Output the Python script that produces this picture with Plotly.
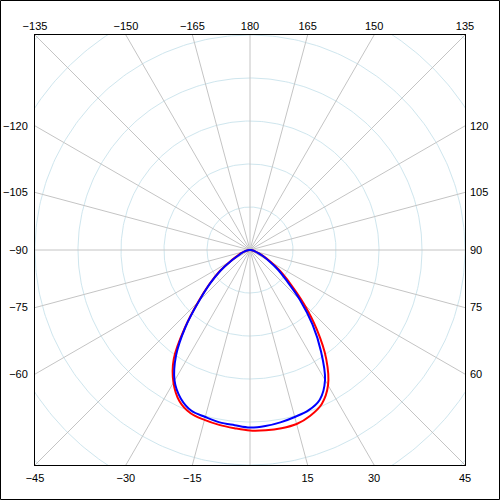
import numpy as np
import plotly.graph_objects as go

# ---- data (angles in degrees, 0 = straight down, positive toward the right) ----
ANGLES = list(range(-90, 91, 5))
RED = [0, 2, 7, 14, 23, 33, 53, 86, 123, 170, 235, 309, 356, 388, 404, 409, 413, 416, 420,
       421, 421, 419, 410, 395, 363, 309, 242, 177, 123, 86, 56, 35, 21, 12, 7, 2, 0]
BLUE = [0, 2, 7, 14, 21, 30, 51, 84, 121, 167, 233, 300, 351, 381, 398, 402, 407, 409, 413,
        411, 407, 402, 397, 384, 349, 288, 226, 165, 112, 79, 51, 33, 19, 12, 7, 2, 0]

GRID_RADII = [100, 200, 300, 400, 500, 600, 700]
SPOKE_ANGLES = list(range(-180, 180, 15))
BOTTOM_LABELS = [-45, -30, -15, 15, 30, 45]
TOP_LABELS = [-135, -150, -165, 180, 165, 150, 135]
LEFT_LABELS = [-120, -105, -90, -75, -60]
RIGHT_LABELS = [120, 105, 90, 75, 60]
RMAX = 500


def to_xy(theta_deg, r):
    t = np.radians(np.asarray(theta_deg, dtype=float))
    r = np.asarray(r, dtype=float)
    return r * np.sin(t), -r * np.cos(t)


def fmt(v):
    return str(v).replace("-", "\u2212")


fig = go.Figure()

# concentric circles
cx, cy = [], []
full = np.arange(0, 361, 1)
for rad in GRID_RADII:
    x, y = to_xy(full, np.full(full.shape, rad))
    cx += list(x) + [None]
    cy += list(y) + [None]
fig.add_trace(go.Scatter(x=cx, y=cy, mode="lines",
                         line=dict(color="#cfe6ee", width=1), hoverinfo="skip"))

# spokes
sx, sy = [], []
for a in SPOKE_ANGLES:
    t = np.radians(a)
    rend = RMAX / max(abs(np.sin(t)), abs(np.cos(t)))
    x, y = to_xy([a, a], [0, rend])
    sx += list(x) + [None]
    sy += list(y) + [None]
fig.add_trace(go.Scatter(x=sx, y=sy, mode="lines",
                         line=dict(color="#c4c4c4", width=1), hoverinfo="skip"))

# curves
rx, ry = to_xy(ANGLES, RED)
fig.add_trace(go.Scatter(x=rx, y=ry, mode="lines", line=dict(color="#ff0000", width=2, shape="spline"),
                         name="C0-C180"))
bx, by = to_xy(ANGLES, BLUE)
fig.add_trace(go.Scatter(x=bx, y=by, mode="lines", line=dict(color="#0000ff", width=2, shape="spline"),
                         name="C90-C270"))

# dummy trace for the secondary axes
fig.add_trace(go.Scatter(x=[None], y=[None], xaxis="x2", yaxis="y2", mode="lines",
                         hoverinfo="skip", showlegend=False))

bottom_pos = [RMAX * np.tan(np.radians(a)) for a in BOTTOM_LABELS]
top_pos = [-RMAX * np.tan(np.radians(a)) for a in TOP_LABELS]
left_pos = [RMAX / np.tan(np.radians(a)) for a in LEFT_LABELS]
right_pos = [-RMAX / np.tan(np.radians(a)) for a in RIGHT_LABELS]

tickfont = dict(family="Liberation Sans, Arial, sans-serif", size=11, color="black")
common = dict(range=[-RMAX, RMAX], showgrid=False, zeroline=False, ticks="",
              tickfont=tickfont, fixedrange=True, tickmode="array", automargin=False)

fig.update_layout(
    width=500, height=500,
    margin=dict(l=35, r=35, t=35, b=35, pad=0, autoexpand=False),
    paper_bgcolor="white", plot_bgcolor="white",
    showlegend=False,
    hovermode=False,
    xaxis=dict(**common, tickvals=bottom_pos, ticktext=[fmt(v) for v in BOTTOM_LABELS],
               showline=True, linecolor="black", linewidth=1, mirror=True, ticklabelstandoff=3),
    yaxis=dict(**common, tickvals=left_pos, ticktext=[fmt(v) for v in LEFT_LABELS],
               showline=True, linecolor="black", linewidth=1, mirror=True, ticklabelstandoff=4),
    xaxis2=dict(**common, overlaying="x", side="top", anchor="y", tickvals=top_pos,
                ticktext=[fmt(v) for v in TOP_LABELS], showline=False, ticklabelstandoff=2),
    yaxis2=dict(**common, overlaying="y", side="right", anchor="x", tickvals=right_pos,
                ticktext=[fmt(v) for v in RIGHT_LABELS], showline=False, ticklabelstandoff=4),
    shapes=[dict(type="rect", xref="paper", yref="paper",
                 x0=(0.5 - 35) / 430, x1=(499.5 - 35) / 430,
                 y0=(0.5 - 35) / 430, y1=(499.5 - 35) / 430,
                 line=dict(color="black", width=1))],
)

fig.write_html("out.html", config={"displayModeBar": False, "staticPlot": True},
               post_script="document.body.style.margin='0';document.body.style.padding='0';")
